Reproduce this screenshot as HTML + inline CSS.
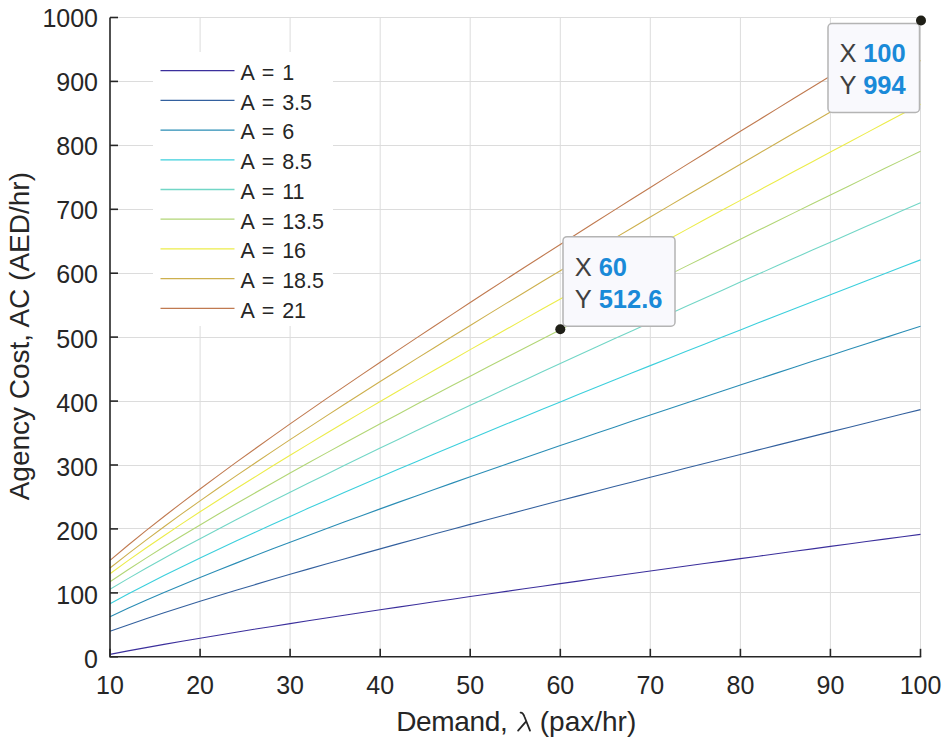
<!DOCTYPE html>
<html><head><meta charset="utf-8"><style>
html,body{margin:0;padding:0;background:#fff;}
svg{display:block;}
text{font-family:"Liberation Sans",sans-serif;fill:#262626;}
.tl{font-size:25px;}
.lg{font-size:21.5px;word-spacing:2px;}
.dl{font-size:25.5px;fill:#404040;}
.dv{font-size:25.5px;font-weight:bold;fill:#1a8ad8;}
.al{font-size:28px;}
</style></head><body>
<svg width="945" height="747" viewBox="0 0 945 747">
<rect width="945" height="747" fill="#fff"/>
<g stroke="#dcdcdc" stroke-width="1">
<line x1="200.1" y1="17.5" x2="200.1" y2="656.8"/>
<line x1="290.1" y1="17.5" x2="290.1" y2="656.8"/>
<line x1="380.2" y1="17.5" x2="380.2" y2="656.8"/>
<line x1="470.2" y1="17.5" x2="470.2" y2="656.8"/>
<line x1="560.3" y1="17.5" x2="560.3" y2="656.8"/>
<line x1="650.3" y1="17.5" x2="650.3" y2="656.8"/>
<line x1="740.4" y1="17.5" x2="740.4" y2="656.8"/>
<line x1="830.4" y1="17.5" x2="830.4" y2="656.8"/>
<line x1="920.5" y1="17.5" x2="920.5" y2="656.8"/>
<line x1="110.0" y1="592.5" x2="920.5" y2="592.5"/>
<line x1="110.0" y1="528.5" x2="920.5" y2="528.5"/>
<line x1="110.0" y1="465.5" x2="920.5" y2="465.5"/>
<line x1="110.0" y1="401.5" x2="920.5" y2="401.5"/>
<line x1="110.0" y1="337.5" x2="920.5" y2="337.5"/>
<line x1="110.0" y1="273.5" x2="920.5" y2="273.5"/>
<line x1="110.0" y1="209.5" x2="920.5" y2="209.5"/>
<line x1="110.0" y1="145.5" x2="920.5" y2="145.5"/>
<line x1="110.0" y1="81.5" x2="920.5" y2="81.5"/>
<line x1="110.0" y1="17.5" x2="920.5" y2="17.5"/>
</g>
<rect x="153" y="52" width="180" height="274" fill="#fff"/>
<polyline points="110.00,654.35 128.01,650.91 146.02,647.60 164.03,644.39 182.04,641.26 200.06,638.20 218.07,635.19 236.08,632.23 254.09,629.32 272.10,626.44 290.11,623.61 308.12,620.80 326.13,618.02 344.14,615.26 362.16,612.53 380.17,609.82 398.18,607.14 416.19,604.47 434.20,601.81 452.21,599.18 470.22,596.56 488.23,593.95 506.24,591.36 524.26,588.78 542.27,586.22 560.28,583.66 578.29,581.12 596.30,578.58 614.31,576.06 632.32,573.54 650.33,571.04 668.34,568.54 686.36,566.06 704.37,563.58 722.38,561.10 740.39,558.64 758.40,556.18 776.41,553.73 794.42,551.29 812.43,548.85 830.44,546.42 848.46,543.99 866.47,541.57 884.48,539.16 902.49,536.75 920.50,534.35" fill="none" stroke="#3b2f9c" stroke-width="1.1"/>
<polyline points="110.00,631.27 128.01,624.90 146.02,618.76 164.03,612.81 182.04,607.01 200.06,601.34 218.07,595.77 236.08,590.30 254.09,584.91 272.10,579.59 290.11,574.34 308.12,569.15 326.13,564.01 344.14,558.92 362.16,553.87 380.17,548.87 398.18,543.90 416.19,538.97 434.20,534.08 452.21,529.21 470.22,524.37 488.23,519.56 506.24,514.78 524.26,510.02 542.27,505.28 560.28,500.57 578.29,495.87 596.30,491.20 614.31,486.54 632.32,481.91 650.33,477.29 668.34,472.68 686.36,468.09 704.37,463.52 722.38,458.96 740.39,454.42 758.40,449.89 776.41,445.37 794.42,440.86 812.43,436.37 830.44,431.89 848.46,427.42 866.47,422.96 884.48,418.51 902.49,414.07 920.50,409.65" fill="none" stroke="#33609e" stroke-width="1.1"/>
<polyline points="110.00,616.66 128.01,608.35 146.02,600.33 164.03,592.56 182.04,584.97 200.06,577.56 218.07,570.28 236.08,563.12 254.09,556.07 272.10,549.11 290.11,542.24 308.12,535.44 326.13,528.71 344.14,522.04 362.16,515.43 380.17,508.88 398.18,502.37 416.19,495.91 434.20,489.49 452.21,483.11 470.22,476.77 488.23,470.46 506.24,464.19 524.26,457.95 542.27,451.74 560.28,445.55 578.29,439.40 596.30,433.26 614.31,427.16 632.32,421.07 650.33,415.01 668.34,408.97 686.36,402.95 704.37,396.95 722.38,390.96 740.39,385.00 758.40,379.05 776.41,373.12 794.42,367.21 812.43,361.31 830.44,355.42 848.46,349.56 866.47,343.70 884.48,337.86 902.49,332.03 920.50,326.22" fill="none" stroke="#2a8db5" stroke-width="1.1"/>
<polyline points="110.00,603.70 128.01,594.00 146.02,584.64 164.03,575.54 182.04,566.66 200.06,557.95 218.07,549.40 236.08,540.99 254.09,532.69 272.10,524.49 290.11,516.39 308.12,508.37 326.13,500.42 344.14,492.55 362.16,484.74 380.17,476.98 398.18,469.29 416.19,461.64 434.20,454.04 452.21,446.48 470.22,438.96 488.23,431.49 506.24,424.05 524.26,416.64 542.27,409.27 560.28,401.93 578.29,394.61 596.30,387.33 614.31,380.07 632.32,372.84 650.33,365.63 668.34,358.45 686.36,351.29 704.37,344.15 722.38,337.03 740.39,329.93 758.40,322.85 776.41,315.78 794.42,308.74 812.43,301.71 830.44,294.70 848.46,287.71 866.47,280.73 884.48,273.77 902.49,266.82 920.50,259.88" fill="none" stroke="#3ccfdc" stroke-width="1.1"/>
<polyline points="110.00,589.32 128.01,578.63 146.02,568.28 164.03,558.21 182.04,548.35 200.06,538.67 218.07,529.15 236.08,519.77 254.09,510.51 272.10,501.35 290.11,492.28 308.12,483.30 326.13,474.40 344.14,465.57 362.16,456.80 380.17,448.10 398.18,439.44 416.19,430.84 434.20,422.29 452.21,413.78 470.22,405.32 488.23,396.89 506.24,388.50 524.26,380.15 542.27,371.83 560.28,363.54 578.29,355.28 596.30,347.05 614.31,338.85 632.32,330.67 650.33,322.52 668.34,314.39 686.36,306.29 704.37,298.20 722.38,290.14 740.39,282.10 758.40,274.08 776.41,266.08 794.42,258.09 812.43,250.12 830.44,242.17 848.46,234.24 866.47,226.32 884.48,218.41 902.49,210.53 920.50,202.65" fill="none" stroke="#72d6c6" stroke-width="1.1"/>
<polyline points="110.00,581.72 128.01,569.71 146.02,558.10 164.03,546.79 182.04,535.75 200.06,524.92 218.07,514.27 236.08,503.78 254.09,493.43 272.10,483.20 290.11,473.08 308.12,463.06 326.13,453.13 344.14,443.28 362.16,433.51 380.17,423.81 398.18,414.17 416.19,404.59 434.20,395.07 452.21,385.60 470.22,376.18 488.23,366.81 506.24,357.48 524.26,348.19 542.27,338.94 560.28,329.72 578.29,320.54 596.30,311.40 614.31,302.28 632.32,293.20 650.33,284.15 668.34,275.12 686.36,266.12 704.37,257.14 722.38,248.19 740.39,239.27 758.40,230.36 776.41,221.48 794.42,212.62 812.43,203.78 830.44,194.96 848.46,186.16 866.47,177.38 884.48,168.61 902.49,159.87 920.50,151.14" fill="none" stroke="#b2d676" stroke-width="1.1"/>
<polyline points="110.00,573.76 128.01,560.66 146.02,548.00 164.03,535.68 182.04,523.63 200.06,511.82 218.07,500.21 236.08,488.77 254.09,477.48 272.10,466.33 290.11,455.30 308.12,444.37 326.13,433.55 344.14,422.81 362.16,412.15 380.17,401.57 398.18,391.07 416.19,380.62 434.20,370.24 452.21,359.92 470.22,349.64 488.23,339.42 506.24,329.25 524.26,319.12 542.27,309.03 560.28,298.98 578.29,288.98 596.30,279.00 614.31,269.07 632.32,259.16 650.33,249.29 668.34,239.45 686.36,229.63 704.37,219.85 722.38,210.09 740.39,200.36 758.40,190.65 776.41,180.96 794.42,171.30 812.43,161.66 830.44,152.05 848.46,142.45 866.47,132.87 884.48,123.32 902.49,113.78 920.50,104.26" fill="none" stroke="#ecec4a" stroke-width="1.1"/>
<polyline points="110.00,568.03 128.01,553.82 146.02,540.08 164.03,526.71 182.04,513.66 200.06,500.86 218.07,488.28 236.08,475.89 254.09,463.67 272.10,451.60 290.11,439.66 308.12,427.84 326.13,416.12 344.14,404.51 362.16,392.99 380.17,381.55 398.18,370.19 416.19,358.90 434.20,347.67 452.21,336.51 470.22,325.41 488.23,314.36 506.24,303.37 524.26,292.43 542.27,281.53 560.28,270.68 578.29,259.87 596.30,249.09 614.31,238.36 632.32,227.67 650.33,217.01 668.34,206.38 686.36,195.78 704.37,185.22 722.38,174.68 740.39,164.17 758.40,153.70 776.41,143.24 794.42,132.81 812.43,122.41 830.44,112.03 848.46,101.68 866.47,91.34 884.48,81.03 902.49,70.74 920.50,60.47" fill="none" stroke="#cdb04e" stroke-width="1.1"/>
<polyline points="110.00,560.38 128.01,545.27 146.02,530.66 164.03,516.45 182.04,502.57 200.06,488.96 218.07,475.59 236.08,462.43 254.09,449.44 272.10,436.61 290.11,423.92 308.12,411.36 326.13,398.91 344.14,386.58 362.16,374.33 380.17,362.18 398.18,350.11 416.19,338.12 434.20,326.20 452.21,314.34 470.22,302.55 488.23,290.82 506.24,279.14 524.26,267.52 542.27,255.95 560.28,244.42 578.29,232.94 596.30,221.50 614.31,210.11 632.32,198.75 650.33,187.43 668.34,176.14 686.36,164.89 704.37,153.67 722.38,142.49 740.39,131.33 758.40,120.21 776.41,109.11 794.42,98.04 812.43,86.99 830.44,75.97 848.46,64.98 866.47,54.01 884.48,43.06 902.49,32.13 920.50,21.23" fill="none" stroke="#c07a50" stroke-width="1.1"/>
<g stroke="#262626" stroke-width="1.6">
<line x1="110.0" y1="656.8" x2="110.0" y2="648.8"/>
<line x1="200.1" y1="656.8" x2="200.1" y2="648.8"/>
<line x1="290.1" y1="656.8" x2="290.1" y2="648.8"/>
<line x1="380.2" y1="656.8" x2="380.2" y2="648.8"/>
<line x1="470.2" y1="656.8" x2="470.2" y2="648.8"/>
<line x1="560.3" y1="656.8" x2="560.3" y2="648.8"/>
<line x1="650.3" y1="656.8" x2="650.3" y2="648.8"/>
<line x1="740.4" y1="656.8" x2="740.4" y2="648.8"/>
<line x1="830.4" y1="656.8" x2="830.4" y2="648.8"/>
<line x1="920.5" y1="656.8" x2="920.5" y2="648.8"/>
<line x1="110.0" y1="656.8" x2="118.0" y2="656.8"/>
<line x1="110.0" y1="592.9" x2="118.0" y2="592.9"/>
<line x1="110.0" y1="528.9" x2="118.0" y2="528.9"/>
<line x1="110.0" y1="465.0" x2="118.0" y2="465.0"/>
<line x1="110.0" y1="401.1" x2="118.0" y2="401.1"/>
<line x1="110.0" y1="337.1" x2="118.0" y2="337.1"/>
<line x1="110.0" y1="273.2" x2="118.0" y2="273.2"/>
<line x1="110.0" y1="209.3" x2="118.0" y2="209.3"/>
<line x1="110.0" y1="145.4" x2="118.0" y2="145.4"/>
<line x1="110.0" y1="81.4" x2="118.0" y2="81.4"/>
<line x1="110.0" y1="17.5" x2="118.0" y2="17.5"/>
<polyline points="110.0,17.5 110.0,656.8 921.2,656.8" fill="none"/>
</g>
<g class="tl">
<text x="98" y="668.2" text-anchor="end">0</text>
<text x="98" y="604.1" text-anchor="end">100</text>
<text x="98" y="540.0" text-anchor="end">200</text>
<text x="98" y="475.8" text-anchor="end">300</text>
<text x="98" y="411.6" text-anchor="end">400</text>
<text x="98" y="347.5" text-anchor="end">500</text>
<text x="98" y="283.4" text-anchor="end">600</text>
<text x="98" y="219.2" text-anchor="end">700</text>
<text x="98" y="155.1" text-anchor="end">800</text>
<text x="98" y="90.9" text-anchor="end">900</text>
<text x="98" y="26.8" text-anchor="end">1000</text>
<text x="110.0" y="694" text-anchor="middle">10</text>
<text x="200.1" y="694" text-anchor="middle">20</text>
<text x="290.1" y="694" text-anchor="middle">30</text>
<text x="380.2" y="694" text-anchor="middle">40</text>
<text x="470.2" y="694" text-anchor="middle">50</text>
<text x="560.3" y="694" text-anchor="middle">60</text>
<text x="650.3" y="694" text-anchor="middle">70</text>
<text x="740.4" y="694" text-anchor="middle">80</text>
<text x="830.4" y="694" text-anchor="middle">90</text>
<text x="920.5" y="694" text-anchor="middle">100</text>
</g>
<g class="lg">
<line x1="160.5" y1="70.7" x2="234.5" y2="70.7" stroke="#3b2f9c" stroke-width="1.3"/>
<text x="240.5" y="80.0">A = 1</text>
<line x1="160.5" y1="100.4" x2="234.5" y2="100.4" stroke="#33609e" stroke-width="1.3"/>
<text x="240.5" y="109.7">A = 3.5</text>
<line x1="160.5" y1="130.1" x2="234.5" y2="130.1" stroke="#2a8db5" stroke-width="1.3"/>
<text x="240.5" y="139.4">A = 6</text>
<line x1="160.5" y1="159.8" x2="234.5" y2="159.8" stroke="#3ccfdc" stroke-width="1.3"/>
<text x="240.5" y="169.1">A = 8.5</text>
<line x1="160.5" y1="189.5" x2="234.5" y2="189.5" stroke="#72d6c6" stroke-width="1.3"/>
<text x="240.5" y="198.8">A = 11</text>
<line x1="160.5" y1="219.2" x2="234.5" y2="219.2" stroke="#b2d676" stroke-width="1.3"/>
<text x="240.5" y="228.5">A = 13.5</text>
<line x1="160.5" y1="248.9" x2="234.5" y2="248.9" stroke="#ecec4a" stroke-width="1.3"/>
<text x="240.5" y="258.2">A = 16</text>
<line x1="160.5" y1="278.6" x2="234.5" y2="278.6" stroke="#cdb04e" stroke-width="1.3"/>
<text x="240.5" y="287.9">A = 18.5</text>
<line x1="160.5" y1="308.3" x2="234.5" y2="308.3" stroke="#c07a50" stroke-width="1.3"/>
<text x="240.5" y="317.6">A = 21</text>
</g>
<text class="al" x="396.2" y="731" letter-spacing="-0.35">Demand,</text>
<path d="M520.6,712.6 C522.6,712.4 523.6,714.2 524.6,717 L530,730.6 M525.3,722.3 L518.1,730.6" fill="none" stroke="#262626" stroke-width="1.8" stroke-linecap="round"/>
<text class="al" x="539.8" y="731">(pax/hr)</text>
<text class="al" transform="translate(29.2,336.2) rotate(-90)" text-anchor="middle">Agency Cost, AC (AED/hr)</text>
<rect x="563" y="236.7" width="112" height="89.5" rx="4" ry="4" fill="#f9f9fd" stroke="#b4b4b4" stroke-width="1.5"/>
<text x="574.8" y="275.8" class="dl">X</text><text x="598.7" y="275.8" class="dv">60</text>
<text x="574.8" y="308.3" class="dl">Y</text><text x="598.7" y="308.3" class="dv">512.6</text>
<circle cx="560.3" cy="329.2" r="5" fill="#1f1f17"/>
<rect x="828" y="23.5" width="91.5" height="89" rx="4" ry="4" fill="#f9f9fd" stroke="#b4b4b4" stroke-width="1.5"/>
<text x="839.5" y="61.6" class="dl">X</text><text x="863.2" y="61.6" class="dv">100</text>
<text x="839.5" y="94.1" class="dl">Y</text><text x="863.2" y="94.1" class="dv">994</text>
<circle cx="921" cy="20.5" r="5" fill="#1f1f17"/>
</svg>
</body></html>
